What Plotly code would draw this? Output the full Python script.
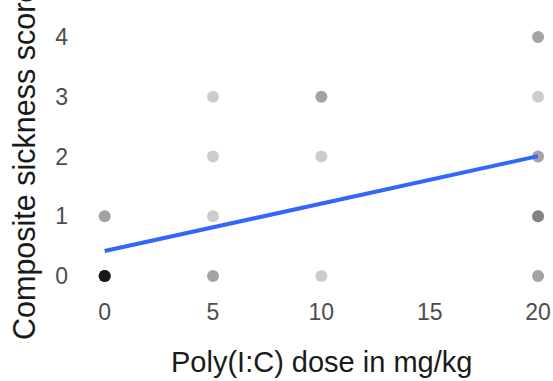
import numpy as np
import plotly.graph_objects as go

# observations: (dose, score) with counts of overlapping points
dose = [0, 0, 5, 5, 5, 5, 10, 10, 10, 20, 20, 20, 20, 20]
score = [0, 1, 0, 1, 2, 3, 0, 2, 3, 0, 1, 2, 3, 4]
count = [10, 2, 2, 1, 1, 1, 1, 1, 2, 2, 3, 2, 1, 2]

xs = []
ys = []
for d, s, c in zip(dose, score, count):
    xs += [d] * c
    ys += [s] * c
xs = np.array(xs, dtype=float)
ys = np.array(ys, dtype=float)

slope, intercept = np.polyfit(xs, ys, 1)
fit_x = np.array([min(dose), max(dose)], dtype=float)
fit_y = intercept + slope * fit_x

x_ticks = [0, 5, 10, 15, 20]
y_ticks = [0, 1, 2, 3, 4]

W, H = 553, 381
L, R, T, B = 83, 0, 25, 93

fig = go.Figure()
fig.add_trace(go.Scatter(
    x=xs, y=ys, mode="markers",
    marker=dict(size=12, color="rgba(0,0,0,0.2)", line=dict(width=0)),
    hoverinfo="skip", showlegend=False))
fig.add_trace(go.Scatter(
    x=fit_x, y=fit_y, mode="lines",
    line=dict(color="#3366FF", width=4),
    showlegend=False))

fig.update_layout(
    width=W, height=H,
    margin=dict(l=L, r=R, t=T, b=B),
    paper_bgcolor="white", plot_bgcolor="white",
    font=dict(family="Liberation Sans, Arial, sans-serif"),
    xaxis=dict(range=[-1, 20.69], tickvals=x_ticks, ticktext=[str(v) for v in x_ticks],
               showgrid=False, zeroline=False, showline=False, ticks="",
               tickfont=dict(size=23, color="#4d4d4d"), ticklabelstandoff=8),
    yaxis=dict(range=[-0.2, 4.2], tickvals=y_ticks, ticktext=[str(v) for v in y_ticks],
               showgrid=False, zeroline=False, showline=False, ticks="",
               tickfont=dict(size=23, color="#4d4d4d"), ticklabelstandoff=14),
)

pw = W - L - R
ph = H - T - B
def px_x(p):
    return (p - L) / pw
def px_y(p):
    return (H - B - p) / ph

fig.add_annotation(text="Poly(I:C) dose in mg/kg", xref="paper", yref="paper",
                   x=px_x(321.5), y=px_y(362), xanchor="center", yanchor="middle",
                   showarrow=False, font=dict(size=29, color="#1a1a1a"))
fig.add_annotation(text="Composite sickness score", xref="paper", yref="paper",
                   x=px_x(24), y=px_y(342), xanchor="center", yanchor="bottom",
                   textangle=-90, showarrow=False, font=dict(size=30.5, color="#1a1a1a"))

fig.write_html("out.html")
